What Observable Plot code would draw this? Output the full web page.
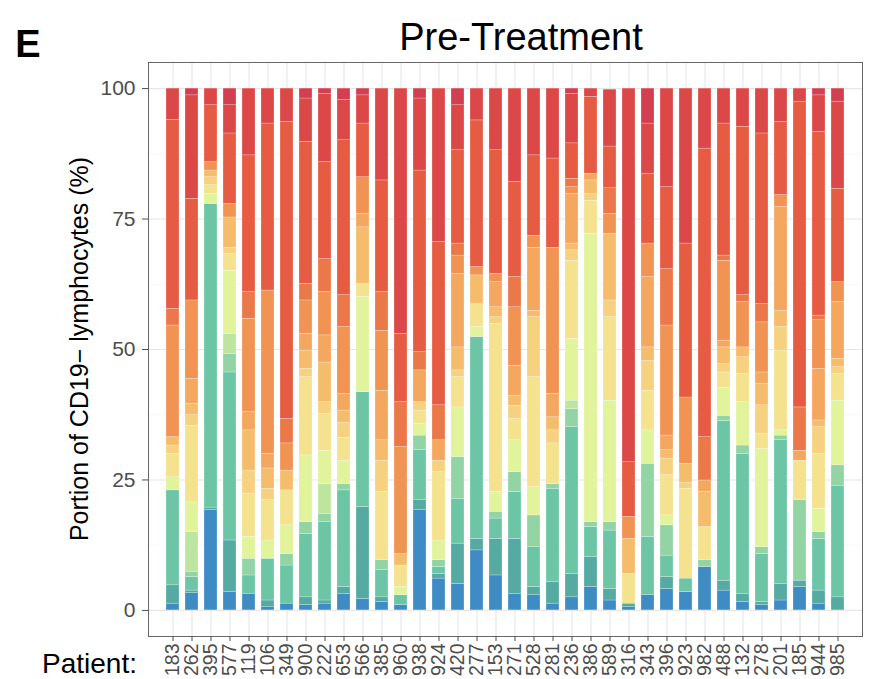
<!DOCTYPE html>
<html><head><meta charset="utf-8">
<script src="https://cdn.jsdelivr.net/npm/d3@7"></script>
<script src="https://cdn.jsdelivr.net/npm/@observablehq/plot@0.6"></script>
<style>body{margin:0;background:#fff;} #chart{width:870px;height:679px;}</style>
</head><body><div id="chart"></div>
<script>
const patients = ["183","262","395","577","119","106","349","900","222","653","566","385","960","938","924","420","277","153","271","528","281","236","386","589","316","343","396","923","982","488","132","278","201","185","944","985"];
const yTicks = [0, 25, 50, 75, 100];

// Clone shares (%) per patient, stacked bottom (k0) to top (k14)
const k0  = [1.3,3.3,19.2,3.5,3.2,0.6,1.3,1.0,1.3,3.2,2.2,1.6,1.0,19.2,6.1,5.1,11.5,6.7,3.2,2.9,1.3,2.5,4.5,1.9,0.6,2.9,4.1,3.5,8.3,3.8,1.6,1.0,1.9,4.5,1.3,0];
const k1  = [3.5,0.5,0.5,9.9,0,1.3,0,1.5,0.6,1.3,17.6,0.9,0,1.9,0.9,7.7,2.2,7.0,10.5,1.6,4.1,4.5,5.7,2.2,0.7,0,2.3,0,0,1.9,1.6,0.6,3.2,1.2,2.5,2.5];
const k2  = [18.2,2.6,58.2,32.2,3.5,8.0,7.3,12.1,15.0,18.5,22.0,5.2,1.9,9.6,1.3,8.6,38.7,3.9,9.0,7.6,17.9,28.1,5.8,11.2,0,11.2,4.1,2.6,0,30.6,26.8,9.2,27.5,0,9.9,21.4];
const k3  = [0,0.9,0,3.5,3.2,0,2.2,2.3,1.6,1.2,0,1.9,0,2.8,1.3,8.0,0,1.3,3.8,6.1,0.9,3.5,0.9,1.6,0,14.0,5.8,0,1.3,1.0,1.6,1.3,0.9,15.4,1.3,3.9];
const k4  = [0,7.7,0,3.9,0,0,0,0,5.7,0,0,0,0,0,0,0,0,0,0,0,0,1.6,0,0,0,0,0,0,0,0,0,0,0,0,0,0];
const k5  = [2.5,5.7,1.9,12.1,4.2,3.5,5.5,12.8,6.4,4.5,18.3,0,1.6,2.3,3.8,9.5,1.9,3.8,6.1,5.4,0,11.8,55.3,23.3,0,6.4,1.9,0,0,5.4,8.3,18.8,1.0,0,4.5,12.4];
const k6  = [4.5,14.7,1.7,3.2,8.3,7.7,6.7,15.0,7.0,4.4,2.5,13.1,4.1,2.5,13.1,5.8,4.4,32.2,4.1,21.1,7.8,15.0,6.3,16,5.7,7.6,7.7,17.2,6.4,2.9,5.4,2.9,15.3,7.6,10.5,5.1];
const k7  = [1.6,2.0,1.5,1.2,4.4,2.2,0,1.6,2.3,2.9,0,6.0,0,1.6,2.2,1.3,0,1.3,2.5,11.5,2.5,2.0,1.3,3.2,0,5.7,3.2,1.2,0,1.6,3.2,5.5,4.5,0,5.1,1.3];
const k8  = [1.6,2.2,1.3,5.8,7.7,3.9,3.8,3.5,7.6,2.3,10.8,3.9,2.2,0,0,4.4,5.5,1.9,1.9,1.2,2.5,1.3,2.6,12.8,6.7,2.6,1.6,3.6,6.7,3.2,1.9,4.1,3.1,0,1.3,1.6];
const k9  = [0,4.8,0,0,3.5,2.8,0,3.2,5.2,3.2,2.6,9.5,0,6.1,3.9,14.1,0,4.8,5.8,12.1,4.5,9.5,1.3,0,0,13.5,2.8,0,2.2,1.3,0,2.2,19.9,1.9,9.9,10.9];
const k10 = [21.4,15.0,1.6,2.6,17.9,31.3,5.2,6.4,8.3,12.8,7.0,11.5,20.5,0,0,3.5,1.6,1.6,11.2,2.3,28,1.3,0,3.8,4.2,6.4,21.1,12.7,0,15.3,8.7,9.6,2.3,0,9.3,3.8];
const k11 = [3.2,0,0,0,5.1,0,4.7,3.2,6.3,6.1,0,7.4,8.6,3.5,6.7,2.3,0,0,5.8,0,0,1.6,0,4.9,0,0,10.8,0,8.3,1.0,1.3,3.5,0,8.3,0.9,0];
const k12 = [36.2,19.5,10.9,13.5,26.2,32,56.9,27.2,18.6,29.7,10.3,21.4,13.1,34.8,31.3,17.9,28.1,23.7,18.2,15.4,17.1,6.8,14.7,8,10.5,13.4,15.7,29.5,55.3,25.3,32.3,32.7,14,58.6,35.2,17.9];
const k13 = [6,19.8,3.2,5.4,12.8,6.7,6.4,8.3,13.1,7.7,5.4,17.6,47,13.8,29.4,8.6,6.1,11.8,17.9,12.8,13.4,9.5,1.6,10.9,71.6,9.6,18.9,29.7,11.5,6.7,7.3,8.6,6.4,2.5,7.0,16.7];
const k14 = [0,1.3,0,3.2,0,0,0,1.9,1.0,2.2,1.3,0,0,1.9,0,3.2,0,0,0,0,0,1.0,0,0,0,6.7,0,0,0,0,0,0,0,0,1.3,2.5];

const cloneColors = ["#3f8bc4","#55aaa2","#6cc6a6","#93d4a5","#bde5a0","#e2f49b","#f4e28e","#f6d17f","#f5bc6c","#f3a75f","#f09353","#eb7848","#e55c43","#dc4848","#d33e51"];

const series = [k0,k1,k2,k3,k4,k5,k6,k7,k8,k9,k10,k11,k12,k13,k14];
const seriesNames = series.map((_, i) => "k" + String(i).padStart(2, "0"));
const rows = [];
patients.forEach((p, i) => series.forEach((s, k) => {
  if (s[i] > 0) rows.push({patient: p, clone: seriesNames[k], value: s[i]});
}));

const font = "'Liberation Sans', Arial, Helvetica, sans-serif";
const chart = Plot.plot({
  width: 870, height: 679,
  marginTop: 62, marginBottom: 43, marginLeft: 148, marginRight: 8,
  style: {fontFamily: font, background: "#fff"},
  x: {type: "band", domain: patients, paddingInner: 0.29, paddingOuter: 0.245, align: 0.5},
  y: {domain: [-5, 105]},
  color: {domain: seriesNames, range: cloneColors},
  marks: [
    Plot.gridY({ticks: [12.5, 37.5, 62.5, 87.5], stroke: "#f2f2f2", strokeOpacity: 1, strokeWidth: 0.6}),
    Plot.gridY({ticks: yTicks, stroke: "#e6e6e6", strokeOpacity: 1, strokeWidth: 1.1}),
    Plot.gridX({stroke: "#e6e6e6", strokeOpacity: 1, strokeWidth: 1.1}),
    Plot.barY(rows, {x: "patient", y: "value", fill: "clone", order: seriesNames, stroke: "#ffffff", strokeWidth: 0.4, strokeOpacity: 0.6}),
    Plot.frame({stroke: "#666", strokeWidth: 1}),
    Plot.axisY({ticks: yTicks, tickSize: 6, tickPadding: 7, fontSize: 21, color: "#4d4d4d", label: null}),
    Plot.axisX({tickRotate: -90, tickSize: 5, tickPadding: 2, fontSize: 19.5, color: "#4d4d4d", label: null})
  ]
});
document.getElementById("chart").appendChild(chart);

const svg = d3.select(chart);
svg.append("text").attr("x", 28).attr("y", 57).attr("font-size", 38).attr("font-weight", "bold")
  .attr("fill", "#000").attr("font-family", font).text("E");
svg.append("text").attr("x", 521).attr("y", 50).attr("font-size", 38).attr("text-anchor", "middle")
  .attr("fill", "#000").attr("font-family", font).text("Pre-Treatment");
svg.append("text").attr("transform", "translate(88,349) rotate(-90)").attr("font-size", 25)
  .attr("text-anchor", "middle").attr("fill", "#000").attr("font-family", font)
  .text("Portion of CD19\u2212 lymphocytes (%)");
svg.append("text").attr("x", 137).attr("y", 673).attr("font-size", 28).attr("text-anchor", "end")
  .attr("fill", "#000").attr("font-family", font).text("Patient:");
</script>
</body></html>
